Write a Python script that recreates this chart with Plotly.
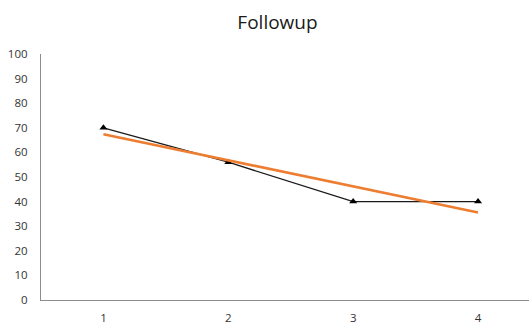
import numpy as np
import plotly.graph_objects as go

# Followup scores per visit
visits = [1, 2, 3, 4]
scores = [70, 56, 40, 40]
y_ticks = list(range(0, 101, 10))

# Linear (least-squares) trendline over the visits
slope, intercept = np.polyfit(visits, scores, 1)
trend = [slope * v + intercept for v in visits]

fig = go.Figure()
fig.add_trace(go.Scatter(
    x=visits, y=scores, mode="lines+markers",
    line=dict(color="#1a1a1a", width=1.3),
    marker=dict(symbol="triangle-up", size=7, color="#000000"),
    showlegend=False,
))
fig.add_trace(go.Scatter(
    x=[visits[0], visits[-1]], y=[trend[0], trend[-1]], mode="lines",
    line=dict(color="#ED7D31", width=2.6),
    showlegend=False,
))

fig.update_layout(
    width=529, height=326,
    margin=dict(l=41, r=0, t=54, b=26),
    paper_bgcolor="white", plot_bgcolor="white",
    font=dict(family="Open Sans, sans-serif", color="#404040", size=11),
    title=dict(text="Followup", x=277.5 / 529, xref="container", xanchor="center",
               y=1 - 22 / 326, yref="container", yanchor="middle",
               font=dict(size=19, color="#1a1a1a", family="Open Sans, sans-serif")),
    xaxis=dict(range=[0.5, 4.408], tickvals=visits, ticktext=[str(v) for v in visits],
               showgrid=False, zeroline=False, showline=True, linecolor="#8c8c8c",
               linewidth=1.2, ticks="", ticklabelstandoff=7,
               tickfont=dict(size=11.5, color="#333333")),
    yaxis=dict(range=[0, 100], tickvals=y_ticks, showgrid=False, zeroline=False,
               showline=True, linecolor="#8c8c8c", linewidth=1.2, ticks="",
               ticklabelstandoff=10, tickfont=dict(size=11.5, color="#333333")),
)

fig.write_html("out.html")
